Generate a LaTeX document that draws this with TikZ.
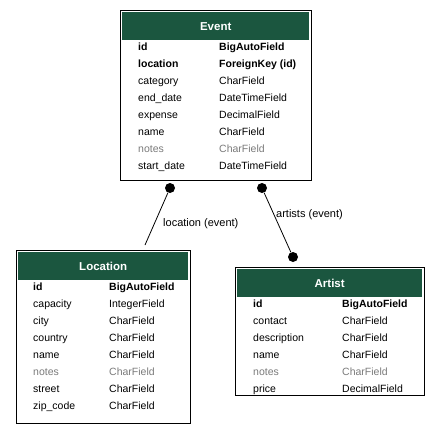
\documentclass[tikz,border=0pt]{standalone}
\usepackage{fontspec}
\setmainfont{Liberation Sans}
\usepackage{xcolor}
\definecolor{djgreen}{HTML}{1B563F}
\definecolor{blankg}{HTML}{7B7B7B}

\tikzset{
  tbl/.style={draw=black, line width=1.2pt, fill=white, anchor=north west, inner sep=0pt},
  hdr/.style={fill=djgreen, anchor=north west, inner sep=0pt, text=white,
    font=\bfseries\fontsize{11.5}{13}\selectfont},
  fld/.style={anchor=west, inner sep=0pt, text height=7.5pt, text depth=0pt,
    font=\fontsize{10.5}{12}\selectfont},
  keyfld/.style={fld, font=\bfseries\fontsize{10.5}{12}\selectfont},
  blankfld/.style={fld, text=blankg},
  enddot/.style={circle, fill=black, inner sep=0pt, minimum size=10pt},
  rel/.style={line width=0.8pt},
  rellabel/.style={anchor=west, inner sep=0pt, text height=7.5pt, text depth=0pt,
    font=\fontsize{11}{13}\selectfont}
}

\begin{document}
\begin{tikzpicture}[x=1pt,y=-1pt]
\useasboundingbox (0,0) rectangle (439,431);

% Event
\node[tbl, minimum width=191pt, minimum height=170pt] (event) at (120,10) {};
\node[hdr, minimum width=187pt, minimum height=28pt] (event-hdr) at (122,12) {Event};
\foreach \fname/\ftype/\fsty [count=\i] in {id/BigAutoField/keyfld, location/ForeignKey (id)/keyfld,
    category/CharField/fld, end\_date/DateTimeField/fld, expense/DecimalField/fld,
    name/CharField/fld, notes/CharField/blankfld, start\_date/DateTimeField/fld}{
  \node[\fsty] (event-n\i) at (138,30+17*\i) {\fname};
  \node[\fsty] (event-t\i) at (219,30+17*\i) {\ftype};
}

% Location
\node[tbl, minimum width=174pt, minimum height=173pt] (location) at (16,250) {};
\node[hdr, minimum width=170pt, minimum height=28pt] (location-hdr) at (18,252) {Location};
\foreach \fname/\ftype/\fsty [count=\i] in {id/BigAutoField/keyfld, capacity/IntegerField/fld,
    city/CharField/fld, country/CharField/fld, name/CharField/fld,
    notes/CharField/blankfld, street/CharField/fld, zip\_code/CharField/fld}{
  \node[\fsty] (location-n\i) at (33,270+17*\i) {\fname};
  \node[\fsty] (location-t\i) at (109,270+17*\i) {\ftype};
}

% Artist
\node[tbl, minimum width=189pt, minimum height=128pt] (artist) at (235,267) {};
\node[hdr, minimum width=185pt, minimum height=28pt] (artist-hdr) at (237,269) {Artist};
\foreach \fname/\ftype/\fsty [count=\i] in {id/BigAutoField/keyfld, contact/CharField/fld,
    description/CharField/fld, name/CharField/fld, notes/CharField/blankfld,
    price/DecimalField/fld}{
  \node[\fsty] (artist-n\i) at (253,287+17*\i) {\fname};
  \node[\fsty] (artist-t\i) at (342,287+17*\i) {\ftype};
}

% relations
\node[enddot] (evloc) at (170,188) {};
\node[enddot] (evart) at (262,188) {};
\node[enddot] (artev) at (293,257) {};
\coordinate (locev) at (145,245);
\draw[rel] (evloc) -- (locev);
\draw[rel] (evart) -- (artev);
\node[rellabel] (loclabel) at (163,223) {location (event)};
\node[rellabel] (artlabel) at (276,214) {artists (event)};
\end{tikzpicture}
\end{document}
